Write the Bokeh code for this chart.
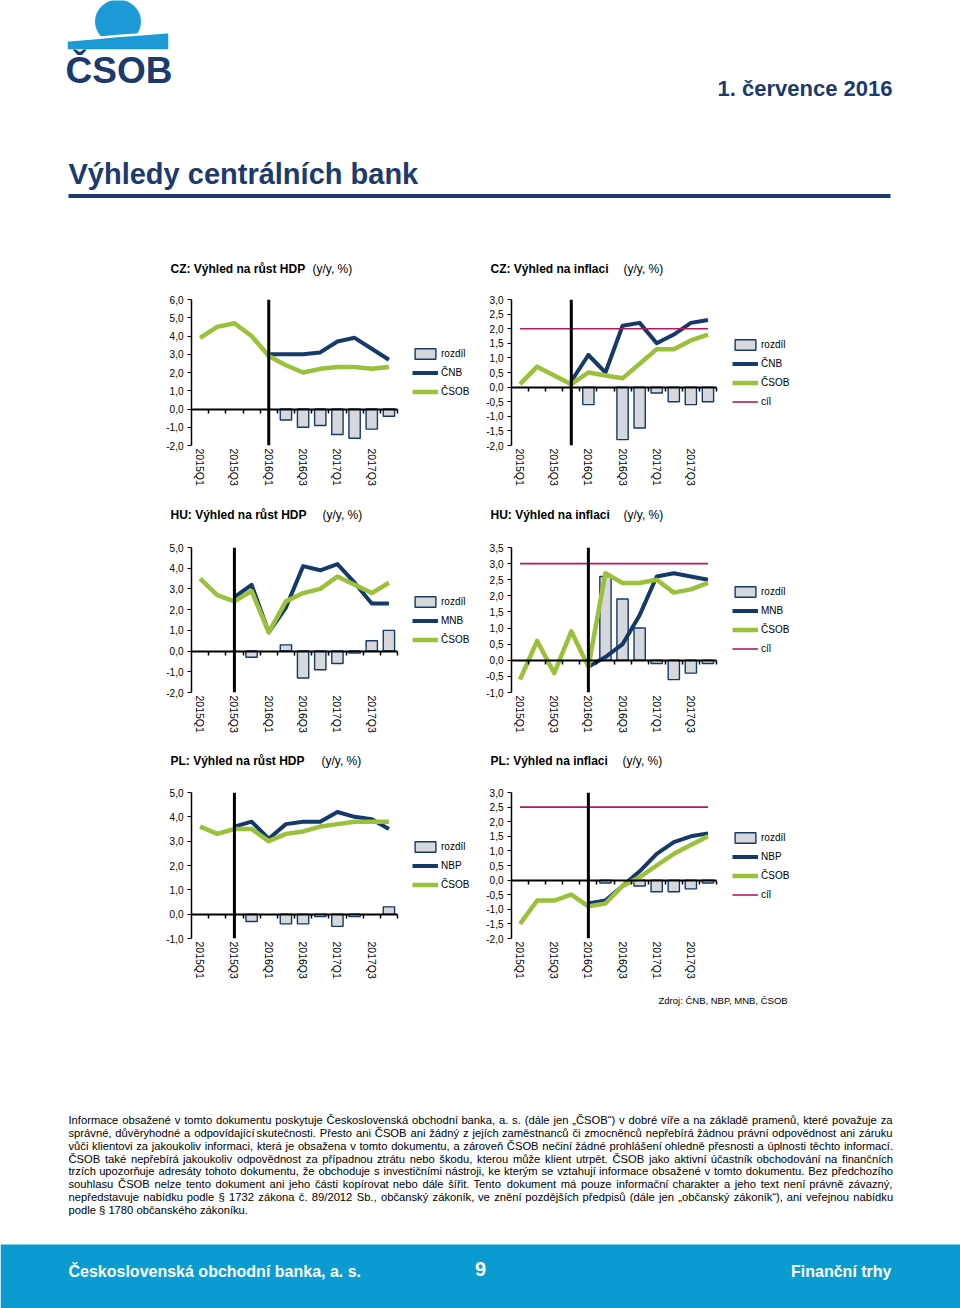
import unicodedata
import numpy as np
from bokeh.plotting import figure
from bokeh.models import (Range1d, FixedTicker, LinearAxis, Span, Legend, LegendItem,
                          CustomJSTickFormatter, ColumnDataSource)
from bokeh.layouts import column, row
from bokeh.embed import file_html
from bokeh.resources import INLINE
from bokeh.core.properties import value

# ---------------- data ----------------
quarters = ["2015Q1", "2015Q2", "2015Q3", "2015Q4", "2016Q1", "2016Q2",
            "2016Q3", "2016Q4", "2017Q1", "2017Q2", "2017Q3", "2017Q4"]
shown_quarters = ["2015Q1", "2015Q3", "2016Q1", "2016Q3", "2017Q1", "2017Q3"]

# CZ: GDP growth
cz_gdp_csob = [3.9, 4.5, 4.7, 4.0, 2.9, 2.4, 2.0, 2.2, 2.3, 2.3, 2.2, 2.3]
cz_gdp_cnb = [None, None, None, None, 3.0, 3.0, 3.0, 3.1, 3.7, 3.9, 3.3, 2.7]
cz_gdp_diff = [None, None, None, None, None, -0.6, -1.0, -0.9, -1.4, -1.6, -1.1, -0.4]
cz_gdp_ticks = [-2.0, -1.0, 0.0, 1.0, 2.0, 3.0, 4.0, 5.0, 6.0]

# CZ: inflation
cz_inf_csob = [0.1, 0.7, 0.4, 0.1, 0.5, 0.4, 0.3, 0.8, 1.3, 1.3, 1.6, 1.8]
cz_inf_cnb = [None, None, None, 0.2, 1.1, 0.5, 2.1, 2.2, 1.5, 1.8, 2.2, 2.3]
cz_inf_diff = [None, None, None, None, -0.6, None, -1.8, -1.4, -0.2, -0.5, -0.6, -0.5]
cz_inf_cil = [2.0, 2.0, 2.0, 2.0, 2.0, 2.0, 2.0, 2.0, 2.0, 2.0, 2.0, 2.0]
cz_inf_ticks = [-2.0, -1.5, -1.0, -0.5, 0.0, 0.5, 1.0, 1.5, 2.0, 2.5, 3.0]

# HU: GDP growth
hu_gdp_csob = [3.5, 2.7, 2.4, 2.9, 0.9, 2.4, 2.8, 3.0, 3.6, 3.2, 2.8, 3.3]
hu_gdp_mnb = [None, None, 2.6, 3.2, 0.9, 2.1, 4.1, 3.9, 4.2, 3.3, 2.3, 2.3]
hu_gdp_diff = [None, None, None, -0.3, None, 0.3, -1.3, -0.9, -0.6, -0.1, 0.5, 1.0]
hu_gdp_ticks = [-2.0, -1.0, 0.0, 1.0, 2.0, 3.0, 4.0, 5.0]

# HU: inflation
hu_inf_csob = [-0.6, 0.6, -0.4, 0.9, -0.2, 2.7, 2.4, 2.4, 2.5, 2.1, 2.2, 2.4]
hu_inf_mnb = [None, None, None, None, -0.2, 0.1, 0.5, 1.4, 2.6, 2.7, 2.6, 2.5]
hu_inf_diff = [None, None, None, None, None, 2.6, 1.9, 1.0, -0.1, -0.6, -0.4, -0.1]
hu_inf_cil = [3.0, 3.0, 3.0, 3.0, 3.0, 3.0, 3.0, 3.0, 3.0, 3.0, 3.0, 3.0]
hu_inf_ticks = [-1.0, -0.5, 0.0, 0.5, 1.0, 1.5, 2.0, 2.5, 3.0, 3.5]

# PL: GDP growth
pl_gdp_csob = [3.6, 3.3, 3.5, 3.5, 3.0, 3.3, 3.4, 3.6, 3.7, 3.8, 3.8, 3.8]
pl_gdp_nbp = [None, None, 3.6, 3.8, 3.1, 3.7, 3.8, 3.8, 4.2, 4.0, 3.9, 3.5]
pl_gdp_diff = [None, None, None, -0.3, None, -0.4, -0.4, -0.1, -0.5, -0.1, None, 0.3]
pl_gdp_ticks = [-1.0, 0.0, 1.0, 2.0, 3.0, 4.0, 5.0]

# PL: inflation
pl_inf_csob = [-1.5, -0.7, -0.7, -0.5, -0.9, -0.8, -0.2, 0.1, 0.5, 0.9, 1.2, 1.5]
pl_inf_nbp = [None, None, None, None, -0.8, -0.7, -0.2, 0.3, 0.9, 1.3, 1.5, 1.6]
pl_inf_diff = [None, None, None, None, None, -0.1, None, -0.2, -0.4, -0.4, -0.3, -0.1]
pl_inf_cil = [2.5, 2.5, 2.5, 2.5, 2.5, 2.5, 2.5, 2.5, 2.5, 2.5, 2.5, 2.5]
pl_inf_ticks = [-2.0, -1.5, -1.0, -0.5, 0.0, 0.5, 1.0, 1.5, 2.0, 2.5, 3.0]

chart_titles = [("CZ: Výhled na růst HDP", "CZ: Výhled na inflaci"),
                ("HU: Výhled na růst HDP", "HU: Výhled na inflaci"),
                ("PL: Výhled na růst HDP", "PL: Výhled na inflaci")]
title_unit = "(y/y, %)"

disclaimer = [
    "Informace obsažené v tomto dokumentu poskytuje Československá obchodní banka, a. s. (dále jen „ČSOB“) v dobré víře a na základě pramenů, které považuje za",
    "správné, důvěryhodné a odpovídající skutečnosti. Přesto ani ČSOB ani žádný z jejích zaměstnanců či zmocněnců nepřebírá žádnou právní odpovědnost ani záruku",
    "vůči klientovi za jakoukoliv informaci, která je obsažena v tomto dokumentu, a zároveň ČSOB nečiní žádné prohlášení ohledně přesnosti a úplnosti těchto informací.",
    "ČSOB také nepřebírá jakoukoliv odpovědnost za případnou ztrátu nebo škodu, kterou může klient utrpět. ČSOB jako aktivní účastník obchodování na finančních",
    "trzích upozorňuje adresáty tohoto dokumentu, že obchoduje s investičními nástroji, ke kterým se vztahují informace obsažené v tomto dokumentu. Bez předchozího",
    "souhlasu ČSOB nelze tento dokument ani jeho části kopírovat nebo dále šířit. Tento dokument má pouze informační charakter a jeho text není právně závazný,",
    "nepředstavuje nabídku podle § 1732 zákona č. 89/2012 Sb., občanský zákoník, ve znění pozdějších předpisů (dále jen „občanský zákoník“), ani veřejnou nabídku",
    "podle § 1780 občanského zákoníku.",
]

# ---------------- style ----------------
FONT = "Liberation Sans"
NAVY = "#15396a"
GREEN = "#9bc03b"
BARFILL = "#d6d8db"
CIL = "#b2195e"
LOGO_BLUE = "#1b9ad6"
TEXT_NAVY = "#1c3a6c"
FOOTER_BLUE = "#0a9bd0"

idx = list(range(len(quarters)))
NQ = len(quarters)
# vertical layout (page pixels)
STRIP_TOP = [255, 500, 748]
STRIP_H = 30
ROW_TOP = [285, 530, 778]
ROW_H = [215, 218, 212]
FRAME_TOP = [299, 547, 792]
FRAME_BOT = [445, 692, 938]
TITLE_MID = [268, 514, 760]
UNIT_X = [(312, 623), (322, 623), (321, 622)]


def arr(v):
    return np.array([np.nan if a is None else a for a in v], dtype=float)


def build_chart(rowi, side, cb_name, csob, cb, diff, ticks, vline, cil=None):
    top_y, fh = ROW_TOP[rowi], ROW_H[rowi]
    ftop, fbot = FRAME_TOP[rowi], FRAME_BOT[rowi]
    if side == 0:
        fig_x, fl, fr = 0, 191, 397
    else:
        fig_x, fl, fr = 480, 511, 716
    cat_w = (fr - fl) / NQ
    # the frame runs to the figure's right edge so that the legend sits inside it
    x_end = -0.5 + (fig_x + 480 - fl) / cat_w
    p = figure(width=480, height=fh, title=None,
               x_range=Range1d(-0.5, x_end),
               y_range=Range1d(ticks[0], ticks[-1]),
               output_backend="svg", toolbar_location=None,
               min_border_left=fl - fig_x, min_border_right=0,
               min_border_top=ftop - top_y, min_border_bottom=top_y + fh - fbot)
    p.outline_line_color = None
    p.grid.visible = False
    p.background_fill_color = "white"
    p.border_fill_color = "white"

    src = ColumnDataSource(dict(x=idx, csob=arr(csob), cb=arr(cb), diff=arr(diff),
                                cil=arr(cil) if cil is not None else arr([None] * NQ)))

    bars = p.vbar(x="x", top="diff", bottom=0, width=0.66, source=src,
                  fill_color=BARFILL, line_color=NAVY, line_width=1.4)
    cb_line = p.line("x", "cb", source=src, line_color=NAVY, line_width=4, line_join="round")
    cs_line = p.line("x", "csob", source=src, line_color=GREEN, line_width=4.5, line_join="round")
    items = [LegendItem(label="rozdíl", renderers=[bars]),
             LegendItem(label=cb_name, renderers=[cb_line]),
             LegendItem(label="ČSOB", renderers=[cs_line])]
    if cil is not None:
        cil_line = p.line("x", "cil", source=src, line_color=CIL, line_width=1.6)
        items.append(LegendItem(label="cíl", renderers=[cil_line]))

    p.add_layout(Span(location=vline, dimension="height", line_color="black", line_width=3))

    xa = p.below[0]
    xa.ticker = FixedTicker(ticks=[quarters.index(q) for q in shown_quarters])
    xa.major_label_overrides = {quarters.index(q): q for q in shown_quarters}
    xa.major_label_orientation = "vertical"
    xa.axis_line_color = None
    xa.major_tick_line_color = None
    xa.minor_tick_line_color = None
    xa.major_tick_out = 0
    xa.major_tick_in = 0
    xa.major_label_standoff = 3
    xa.major_label_text_font = FONT
    xa.major_label_text_font_size = "10.5px"
    xa.major_label_text_color = "black"

    zax = LinearAxis(fixed_location=0, bounds=(-0.5, NQ - 0.5),
                     ticker=FixedTicker(ticks=[i + 0.5 for i in idx]),
                     formatter=CustomJSTickFormatter(code="return ''"),
                     axis_line_color="black", axis_line_width=2,
                     major_tick_line_color="black", major_tick_line_width=1.5,
                     major_tick_in=0, major_tick_out=4, minor_tick_line_color=None)
    p.add_layout(zax, "below")

    ya = p.left[0]
    ya.ticker = FixedTicker(ticks=ticks)
    ya.formatter = CustomJSTickFormatter(code="return tick.toFixed(1).replace('.', ',')")
    ya.axis_line_color = "black"
    ya.axis_line_width = 1.5
    ya.major_tick_line_color = "black"
    ya.major_tick_line_width = 1.2
    ya.major_tick_out = 4
    ya.major_tick_in = 0
    ya.minor_tick_line_color = None
    ya.major_label_standoff = 4
    ya.major_label_text_font = FONT
    ya.major_label_text_font_size = "10px"
    ya.major_label_text_color = "black"

    n = len(items)
    item_h, sp = 13, 6
    leg_h = n * item_h + (n - 1) * sp
    frame_h = fbot - ftop
    legend = Legend(items=items, location=(221, (frame_h - leg_h) / 2 - 0.5),
                    glyph_width=26, glyph_height=item_h, label_height=item_h,
                    label_standoff=3, spacing=sp, padding=0, margin=0,
                    border_line_color=None, background_fill_alpha=0,
                    label_text_font=FONT, label_text_font_size="10px",
                    label_text_color="black")
    p.add_layout(legend, "center")
    return p


def deco_figure(y_top, y_bot):
    f = figure(width=960, height=y_bot - y_top, title=None,
               x_range=Range1d(0, 960), y_range=Range1d(y_bot, y_top),
               output_backend="svg", toolbar_location=None,
               x_axis_type=None, y_axis_type=None, min_border=0)
    f.outline_line_color = None
    f.grid.visible = False
    f.background_fill_color = "white"
    f.border_fill_color = "white"
    return f


def title_strip(rowi):
    f = deco_figure(STRIP_TOP[rowi], STRIP_TOP[rowi] + STRIP_H)
    y = TITLE_MID[rowi]
    f.text(x=[170, 490], y=[y, y], text=list(chart_titles[rowi]), text_font=value(FONT),
           text_font_size="12px", text_font_style="bold", text_color="black",
           text_baseline="middle")
    f.text(x=list(UNIT_X[rowi]), y=[y, y], text=[title_unit, title_unit], text_font=value(FONT),
           text_font_size="12px", text_color="black", text_baseline="middle")
    return f


c1 = build_chart(0, 0, "ČNB", cz_gdp_csob, cz_gdp_cnb, cz_gdp_diff, cz_gdp_ticks, 4)
c2 = build_chart(0, 1, "ČNB", cz_inf_csob, cz_inf_cnb, cz_inf_diff, cz_inf_ticks, 3, cz_inf_cil)
c3 = build_chart(1, 0, "MNB", hu_gdp_csob, hu_gdp_mnb, hu_gdp_diff, hu_gdp_ticks, 2)
c4 = build_chart(1, 1, "MNB", hu_inf_csob, hu_inf_mnb, hu_inf_diff, hu_inf_ticks, 4, hu_inf_cil)
c5 = build_chart(2, 0, "NBP", pl_gdp_csob, pl_gdp_nbp, pl_gdp_diff, pl_gdp_ticks, 2)
c6 = build_chart(2, 1, "NBP", pl_inf_csob, pl_inf_nbp, pl_inf_diff, pl_inf_ticks, 4, pl_inf_cil)

# ---------------- header ----------------
hdr = deco_figure(0, 255)
hdr.ellipse(x=[117.5], y=[21], width=[46], height=[44], fill_color=LOGO_BLUE, line_color=None)
hdr.patch(x=[66, 96, 117, 138, 169, 169, 66], y=[40, 37.5, 35.5, 34, 31.5, 50, 50],
          fill_color=LOGO_BLUE, line_color="white", line_width=2.5)
hdr.text(x=[65], y=[70], text=["ČSOB"], text_font=value(FONT), text_font_size="37px",
         text_font_style="bold", text_color=TEXT_NAVY, text_baseline="middle")
hdr.text(x=[892], y=[88], text=["1. července 2016"], text_font=value(FONT),
         text_font_size="22px", text_font_style="bold", text_color=TEXT_NAVY,
         text_align="right", text_baseline="middle")
hdr.text(x=[68], y=[173], text=["Výhledy centrálních bank"], text_font=value(FONT),
         text_font_size="29px", text_font_style="bold", text_color=TEXT_NAVY,
         text_baseline="middle")
hdr.segment(x0=[68], y0=[195.5], x1=[890], y1=[195.5], line_color=TEXT_NAVY, line_width=4)

# ---------------- bottom: source, disclaimer, footer ----------------
ARIAL = {' ': 278, '!': 278, '"': 355, '%': 889, '&': 667, "'": 191, '(': 333, ')': 333,
         ',': 278, '-': 333, '.': 278, '/': 278, ':': 278, ';': 278, '?': 556, '§': 556,
         '„': 333, '“': 333, '”': 333,
         'A': 667, 'B': 667, 'C': 722, 'D': 722, 'E': 667, 'F': 611, 'G': 778, 'H': 722,
         'I': 278, 'J': 500, 'K': 667, 'L': 556, 'M': 833, 'N': 722, 'O': 778, 'P': 667,
         'Q': 778, 'R': 722, 'S': 667, 'T': 611, 'U': 722, 'V': 667, 'W': 944, 'X': 667,
         'Y': 667, 'Z': 611,
         'a': 556, 'b': 556, 'c': 500, 'd': 556, 'e': 556, 'f': 278, 'g': 556, 'h': 556,
         'i': 222, 'j': 222, 'k': 500, 'l': 222, 'm': 833, 'n': 556, 'o': 556, 'p': 556,
         'q': 556, 'r': 333, 's': 500, 't': 278, 'u': 556, 'v': 500, 'w': 722, 'x': 500,
         'y': 500, 'z': 500}


def text_w(s, size):
    tot = 0
    for ch in s:
        base = unicodedata.normalize("NFD", ch)[0]
        tot += ARIAL.get(base, 556)
    return tot * size / 1000.0


bot = deco_figure(990, 1308)
bot.text(x=[658], y=[1000], text=["Zdroj: ČNB, NBP, MNB, ČSOB"], text_font=value(FONT),
         text_font_size="9.5px", text_color="black", text_baseline="middle")

LEFT, RIGHT = 68, 892
span_w = RIGHT - LEFT
dsize = round(min(span_w * 0.985 / text_w(l, 1.0) for l in disclaimer[:-1]), 2)
wx, wy, wt = [], [], []
for li, line in enumerate(disclaimer):
    mid_y = 1119.5 + li * 12.85
    words = line.split(" ")
    widths = [text_w(w, dsize) for w in words]
    if li < len(disclaimer) - 1 and len(words) > 1:
        gap = (span_w - sum(widths)) / (len(words) - 1)
    else:
        gap = text_w(" ", dsize)
    x = LEFT
    for w, ww in zip(words, widths):
        wx.append(x)
        wy.append(mid_y)
        wt.append(w)
        x += ww + gap
bot.text(x=wx, y=wy, text=wt, text_font=value(FONT), text_font_size=f"{dsize}px",
         text_color="black", text_baseline="middle")

bot.quad(left=[0], right=[960], top=[1244], bottom=[1308], fill_color=FOOTER_BLUE, line_color=None)
bot.text(x=[68], y=[1271], text=["Československá obchodní banka, a. s."], text_font=value(FONT),
         text_font_size="16px", text_font_style="bold", text_color="white",
         text_baseline="middle")
bot.text(x=[480], y=[1268], text=["9"], text_font=value(FONT), text_font_size="20px",
         text_font_style="bold", text_color="white", text_align="center",
         text_baseline="middle")
bot.text(x=[891], y=[1271], text=["Finanční trhy"], text_font=value(FONT),
         text_font_size="16px", text_font_style="bold", text_color="white",
         text_align="right", text_baseline="middle")

page = column(hdr, title_strip(0), row(c1, c2), title_strip(1), row(c3, c4),
              title_strip(2), row(c5, c6), bot)

with open("out.html", "w") as fh:
    fh.write(file_html(page, INLINE))
